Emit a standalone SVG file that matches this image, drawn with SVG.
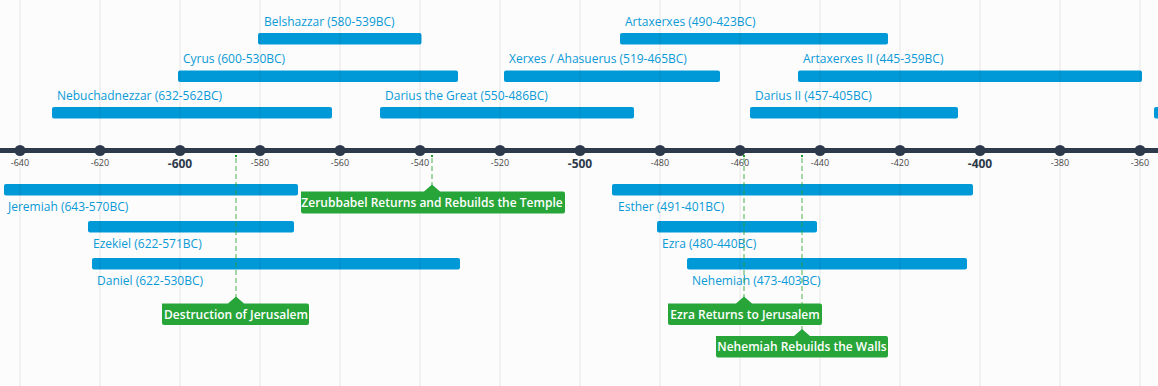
<svg xmlns="http://www.w3.org/2000/svg" width="1158" height="386" viewBox="0 0 1158 386">
<defs>
<style>
.bg{fill:#fcfcfc}
.grid line{stroke:#000;stroke-opacity:0.045;stroke-width:2}
.bar{fill:#0099d8}
.lbl{font-family:"Open Sans","Liberation Sans",sans-serif;font-size:12px;fill:#0a9ad6}
.tick{font-family:"Open Sans","Liberation Sans",sans-serif;font-size:9px;fill:#444;text-anchor:middle}
.tickb{font-family:"Open Sans","Liberation Sans",sans-serif;font-size:12px;font-weight:bold;fill:#2d3a4b;text-anchor:middle}
.axis{stroke:#2d3a4b;stroke-width:5}
.dot{fill:#2d3a4b}
.ev{fill:#28a539}
.evt{font-family:"Open Sans","Liberation Sans",sans-serif;font-size:12px;font-weight:600;fill:#fff;text-anchor:middle}
.dash{stroke:#2ca02c;stroke-opacity:0.42;stroke-width:2;stroke-dasharray:5 3;fill:none}
.dtop{stroke:#1f9a2a;stroke-width:2}
</style>
</defs>
<rect class="bg" x="0" y="0" width="1158" height="386"/>

<g id="top-bars">
<g id="nebuchadnezzar"><rect class="bar" x="52" y="107" width="280" height="11.5" rx="2"/><text class="lbl" x="57" y="100">Nebuchadnezzar (632-562BC)</text></g>
<g id="cyrus"><rect class="bar" x="178" y="70.5" width="280" height="11.5" rx="2"/><text class="lbl" x="183" y="63">Cyrus (600-530BC)</text></g>
<g id="belshazzar"><rect class="bar" x="258" y="33" width="163.5" height="11.5" rx="2"/><text class="lbl" x="264" y="26">Belshazzar (580-539BC)</text></g>
<g id="darius-great"><rect class="bar" x="380" y="107" width="254" height="11.5" rx="2"/><text class="lbl" x="385" y="100">Darius the Great (550-486BC)</text></g>
<g id="xerxes"><rect class="bar" x="504" y="70.5" width="216" height="11.5" rx="2"/><text class="lbl" x="509" y="63">Xerxes / Ahasuerus (519-465BC)</text></g>
<g id="artaxerxes"><rect class="bar" x="620" y="33" width="268" height="11.5" rx="2"/><text class="lbl" x="625" y="26">Artaxerxes (490-423BC)</text></g>
<g id="darius-ii"><rect class="bar" x="750" y="107" width="208" height="11.5" rx="2"/><text class="lbl" x="755" y="100">Darius II (457-405BC)</text></g>
<g id="artaxerxes-ii"><rect class="bar" x="798" y="70.5" width="344" height="11.5" rx="2"/><text class="lbl" x="803" y="63">Artaxerxes II (445-359BC)</text></g>
<g id="offscreen"><rect class="bar" x="1154" y="107" width="10" height="11.5" rx="2"/></g>
</g>

<g id="bottom-bars">
<g id="jeremiah"><rect class="bar" x="4" y="184" width="294" height="11.5" rx="2"/><text class="lbl" x="8" y="211">Jeremiah (643-570BC)</text></g>
<g id="ezekiel"><rect class="bar" x="88" y="221" width="206" height="11.5" rx="2"/><text class="lbl" x="93" y="248">Ezekiel (622-571BC)</text></g>
<g id="daniel"><rect class="bar" x="92" y="258" width="368" height="11.5" rx="2"/><text class="lbl" x="97" y="285">Daniel (622-530BC)</text></g>
<g id="esther"><rect class="bar" x="612" y="184" width="361" height="11.5" rx="2"/><text class="lbl" x="618" y="211">Esther (491-401BC)</text></g>
<g id="ezra"><rect class="bar" x="657" y="221" width="160" height="11.5" rx="2"/><text class="lbl" x="662" y="248">Ezra (480-440BC)</text></g>
<g id="nehemiah"><rect class="bar" x="687" y="258" width="280" height="11.5" rx="2"/><text class="lbl" x="692" y="285">Nehemiah (473-403BC)</text></g>
</g>

<g class="grid">
<line x1="20" y1="0" x2="20" y2="386"/><line x1="100" y1="0" x2="100" y2="386"/><line x1="180" y1="0" x2="180" y2="386"/><line x1="260" y1="0" x2="260" y2="386"/><line x1="340" y1="0" x2="340" y2="386"/><line x1="420" y1="0" x2="420" y2="386"/><line x1="500" y1="0" x2="500" y2="386"/><line x1="580" y1="0" x2="580" y2="386"/><line x1="660" y1="0" x2="660" y2="386"/><line x1="740" y1="0" x2="740" y2="386"/><line x1="820" y1="0" x2="820" y2="386"/><line x1="900" y1="0" x2="900" y2="386"/><line x1="980" y1="0" x2="980" y2="386"/><line x1="1060" y1="0" x2="1060" y2="386"/><line x1="1140" y1="0" x2="1140" y2="386"/>
</g>

<g id="connectors">
<line class="dash" x1="236" y1="158" x2="236" y2="297"/>
<line class="dash" x1="432" y1="158" x2="432" y2="185"/>
<line class="dash" x1="744" y1="158" x2="744" y2="297"/>
<line class="dash" x1="802" y1="158" x2="802" y2="330"/>
<line class="dtop" x1="236" y1="155" x2="236" y2="157"/>
<line class="dtop" x1="432" y1="155" x2="432" y2="157"/>
<line class="dtop" x1="744" y1="155" x2="744" y2="157"/>
<line class="dtop" x1="802" y1="155" x2="802" y2="157"/>
</g>

<g id="axis">
<line class="axis" x1="0" y1="150.5" x2="1158" y2="150.5"/>
<circle class="dot" cx="20" cy="150.5" r="5.5"/><circle class="dot" cx="100" cy="150.5" r="5.5"/><circle class="dot" cx="180" cy="150.5" r="5.5"/><circle class="dot" cx="260" cy="150.5" r="5.5"/><circle class="dot" cx="340" cy="150.5" r="5.5"/><circle class="dot" cx="420" cy="150.5" r="5.5"/><circle class="dot" cx="500" cy="150.5" r="5.5"/><circle class="dot" cx="580" cy="150.5" r="5.5"/><circle class="dot" cx="660" cy="150.5" r="5.5"/><circle class="dot" cx="740" cy="150.5" r="5.5"/><circle class="dot" cx="820" cy="150.5" r="5.5"/><circle class="dot" cx="900" cy="150.5" r="5.5"/><circle class="dot" cx="980" cy="150.5" r="5.5"/><circle class="dot" cx="1060" cy="150.5" r="5.5"/><circle class="dot" cx="1140" cy="150.5" r="5.5"/>
<text class="tick" x="20" y="166">-640</text>
<text class="tick" x="100" y="166">-620</text>
<text class="tickb" x="180" y="168">-600</text>
<text class="tick" x="260" y="166">-580</text>
<text class="tick" x="340" y="166">-560</text>
<text class="tick" x="420" y="166">-540</text>
<text class="tick" x="500" y="166">-520</text>
<text class="tickb" x="580" y="168">-500</text>
<text class="tick" x="660" y="166">-480</text>
<text class="tick" x="740" y="166">-460</text>
<text class="tick" x="820" y="166">-440</text>
<text class="tick" x="900" y="166">-420</text>
<text class="tickb" x="980" y="168">-400</text>
<text class="tick" x="1060" y="166">-380</text>
<text class="tick" x="1140" y="166">-360</text>
</g>

<g id="ev-zerubbabel">
<path class="ev" d="M301 191.5 H424 L432 184.5 L440 191.5 H563 a2 2 0 0 1 2 2 V211.5 a2 2 0 0 1 -2 2 H303 a2 2 0 0 1 -2 -2 Z"/>
<text class="evt" x="432" y="207">Zerubbabel Returns and Rebuilds the Temple</text>
</g>
<g id="ev-destruction">
<path class="ev" d="M162 303.5 H228 L236 296.5 L244 303.5 H307 a2 2 0 0 1 2 2 V323 a2 2 0 0 1 -2 2 H164 a2 2 0 0 1 -2 -2 Z"/>
<text class="evt" x="236" y="318.5">Destruction of Jerusalem</text>
</g>
<g id="ev-ezra">
<path class="ev" d="M668 303.5 H736 L744 296.5 L752 303.5 H820 a2 2 0 0 1 2 2 V323 a2 2 0 0 1 -2 2 H670 a2 2 0 0 1 -2 -2 Z"/>
<text class="evt" x="745" y="318.5">Ezra Returns to Jerusalem</text>
</g>
<g id="ev-nehemiah">
<path class="ev" d="M716 336 H794 L802 329 L810 336 H886 a2 2 0 0 1 2 2 V355.5 a2 2 0 0 1 -2 2 H718 a2 2 0 0 1 -2 -2 Z"/>
<text class="evt" x="802" y="351">Nehemiah Rebuilds the Walls</text>
</g>
</svg>
